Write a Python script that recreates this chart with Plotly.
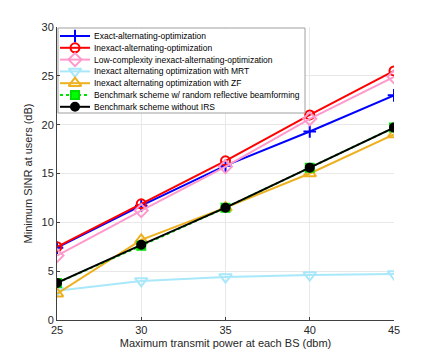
import plotly.graph_objects as go

power_dbm = [25, 30, 35, 40, 45]

exact_ao = [7.4, 11.7, 15.8, 19.3, 23.0]
inexact_ao = [7.5, 11.9, 16.3, 21.0, 25.5]
low_cplx_ao = [6.6, 11.2, 15.7, 20.6, 24.9]
inexact_mrt = [3.0, 4.0, 4.4, 4.6, 4.7]
inexact_zf = [2.7, 8.2, 11.5, 15.0, 19.0]
bench_random = [3.8, 7.6, 11.5, 15.6, 19.7]
bench_no_irs = [3.8, 7.7, 11.5, 15.6, 19.7]

series = [
    ("Exact-alternating-optimization", exact_ao, "#0000FF", "solid", "cross-thin-open", 9, None),
    ("Inexact-alternating-optimization", inexact_ao, "#FF0000", "solid", "circle-open", 9, None),
    ("Low-complexity inexact-alternating-optimization", low_cplx_ao, "#FF99CC", "solid", "diamond-open", 10, None),
    ("Inexact alternating optimization with MRT", inexact_mrt, "#A8E8FA", "solid", "triangle-down-open", 11, None),
    ("Inexact alternating optimization with ZF", inexact_zf, "#EDB120", "solid", "triangle-up-open", 11, None),
    ("Benchmark scheme w/ random reflective beamforming", bench_random, "#00E000", "dot", "square", 8, "#00FF00"),
    ("Benchmark scheme without IRS", bench_no_irs, "#000000", "solid", "circle", 8, "#000000"),
]

# page body has an 8px margin, so screen positions = figure positions + 8
OFF = 8
# plot area on screen: x 57..394, y 27..320
L, R, T, B = 57, 394, 27, 320
W, H = 436, 361

fig = go.Figure()
for name, y, color, dash, symbol, size, fill in series:
    fig.add_trace(go.Scatter(
        x=power_dbm, y=y, name=name, mode="lines+markers",
        line=dict(color=color, width=2, dash=dash),
        marker=dict(symbol=symbol, size=size, color=fill or color,
                    line=dict(color=color, width=2)),
        showlegend=False,
    ))

# hand-built compact legend on an overlay axis measured in screen pixels
box_x0, box_x1, box_y0, box_y1 = 58, 305, 28, 113
fig.add_trace(go.Scatter(
    x=[box_x0, box_x1, box_x1, box_x0, box_x0],
    y=[box_y0, box_y0, box_y1, box_y1, box_y0],
    xaxis="x2", yaxis="y2", mode="lines", fill="toself",
    fillcolor="white", line=dict(color="#A0A0A0", width=1),
    hoverinfo="skip", showlegend=False,
))
row0, row_gap = 36, 11.8
for i, (name, y, color, dash, symbol, size, fill) in enumerate(series):
    ry = row0 + i * row_gap
    fig.add_trace(go.Scatter(
        x=[60, 90], y=[ry, ry], xaxis="x2", yaxis="y2", mode="lines",
        line=dict(color=color, width=2, dash=dash),
        hoverinfo="skip", showlegend=False,
    ))
    fig.add_trace(go.Scatter(
        x=[75], y=[ry], xaxis="x2", yaxis="y2", mode="markers",
        marker=dict(symbol=symbol, size=size, color=fill or color,
                    line=dict(color=color, width=2)),
        hoverinfo="skip", showlegend=False,
    ))
    fig.add_annotation(
        x=92, y=ry, xref="x2", yref="y2", text=name, showarrow=False,
        xanchor="left", yanchor="middle",
        font=dict(size=8.5, color="#000000"),
    )

axis_common = dict(
    showgrid=True, gridcolor="#E8E8E8", gridwidth=1,
    zeroline=False, showline=True, linecolor="#404040", linewidth=1,
    ticks="inside", ticklen=3, tickcolor="#404040",
    tickfont=dict(size=11, color="#262626"),
    mirror=False, automargin=False,
)
fig.update_xaxes(
    range=[25, 45], tickvals=power_dbm,
    title=dict(text="Maximum transmit power at each BS (dbm)",
               font=dict(size=11, color="#262626"), standoff=4),
    **axis_common,
)
fig.update_yaxes(
    range=[0, 30], tickvals=[0, 5, 10, 15, 20, 25, 30],
    title=dict(text="Minimum SINR at users (dB)",
               font=dict(size=11, color="#262626"), standoff=6),
    **axis_common,
)

fig.update_layout(
    width=W, height=H,
    margin=dict(l=L - OFF, r=W - R + OFF, t=T - OFF, b=H - B + OFF),
    plot_bgcolor="white", paper_bgcolor="white",
    font=dict(family="Liberation Sans, Arial, sans-serif", color="#262626"),
    xaxis2=dict(overlaying="x", anchor="y2", range=[L, R], visible=False,
                fixedrange=True),
    yaxis2=dict(overlaying="y", anchor="x2", range=[B, T], visible=False,
                fixedrange=True),
    showlegend=False,
)

fig.write_html("out.html")
